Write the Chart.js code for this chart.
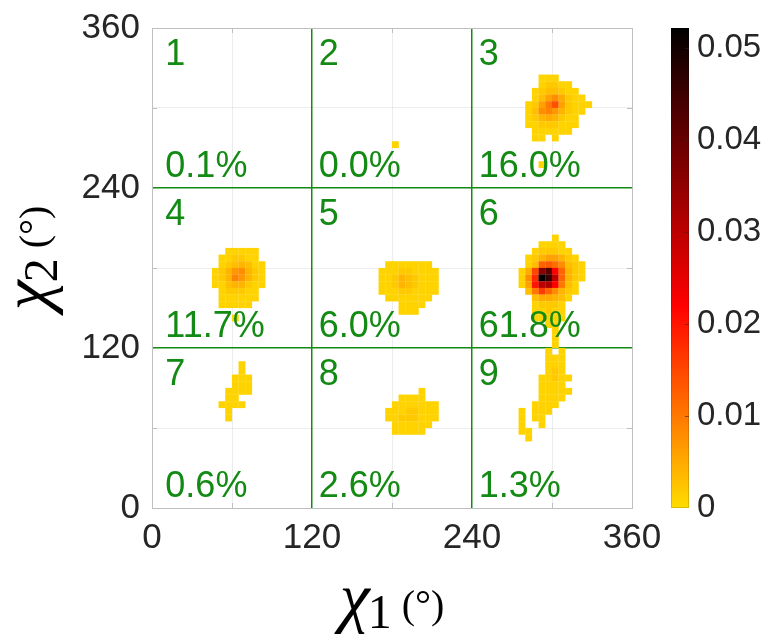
<!DOCTYPE html>
<html lang="en">
<head>
<meta charset="UTF-8">
<title>chi1 / chi2 density map</title>
<style>
  html, body { margin: 0; padding: 0; background: #fff; }
  #wrap { width: 768px; height: 636px; }
</style>
</head>
<body>
<div id="wrap"><canvas id="chart" width="768" height="636"></canvas></div>
<script src="https://cdn.jsdelivr.net/npm/chart.js@4"></script>
<script>
// grid of 5 degree bins, cell values below are in thousandths
const binDeg = 5;
const valueUnit = 0.001;

const axisMax = 360;
const axisLabels = [0, 120, 240, 360];
const cbarMax = 0.0522;
const cbarTicks = [0, 0.01, 0.02, 0.03, 0.04, 0.05];

// colour map: yellow -> red -> black
const cmapStops = [
    [0, [255, 221, 0]],
    [0.022, [255, 0, 0]],
    [0.0522, [0, 0, 0]]
];

const regionNumbers = ['1', '2', '3', '4', '5', '6', '7', '8', '9'];
const regionPercents = ['0.1%', '0.0%', '16.0%', '11.7%', '6.0%', '61.8%', '0.6%', '2.6%', '1.3%'];

// each row: [chi2 bin, first chi1 bin, values...]
const region2Cells = [
    [54, 36, [1]]
];
const region3Cells = [
    [64, 58, [1, 1, 1]],
    [63, 58, [1, 2, 2, 1, 1]],
    [62, 57, [1, 2, 3, 3, 2, 1, 1]],
    [61, 57, [1, 3, 6, 8, 5, 2, 1, 1]],
    [60, 56, [1, 2, 6, 10, 14, 6, 2, 1, 1, 1]],
    [59, 56, [1, 3, 8, 9, 7, 4, 2, 1, 1]],
    [58, 56, [1, 2, 4, 5, 4, 2, 1, 1]],
    [57, 56, [1, 1, 2, 2, 2, 1, 1, 1]],
    [56, 57, [1, 1, 1, 1, 1, 1]],
    [55, 57, [1, 1]],
    [55, 60, [1]],
    [51, 58, [1]]
];
const region4Cells = [
    [38, 11, [1, 1, 1, 1, 1]],
    [37, 10, [1, 1, 2, 2, 1, 1]],
    [36, 10, [1, 2, 3, 4, 3, 1, 1]],
    [35, 9, [1, 2, 4, 7, 8, 4, 2, 1]],
    [34, 9, [1, 2, 4, 9, 7, 4, 2, 1]],
    [33, 9, [1, 1, 3, 4, 4, 2, 1, 1]],
    [32, 10, [1, 2, 2, 2, 1, 1]],
    [31, 10, [1, 1, 1, 1, 1, 1]],
    [30, 10, [1, 1, 1, 1, 1]],
    [28, 12, [1]]
];
const region5Cells = [
    [36, 35, [1, 1, 1, 1, 1, 1, 1]],
    [35, 34, [1, 1, 1, 2, 2, 1, 1, 1, 1]],
    [34, 34, [1, 1, 2, 4, 3, 2, 1, 1, 1]],
    [33, 34, [1, 1, 2, 4, 3, 2, 1, 1, 1]],
    [32, 34, [1, 1, 1, 2, 2, 1, 1, 1, 1]],
    [31, 35, [1, 1, 1, 1, 1, 1, 1]],
    [30, 37, [1, 1, 1, 1]],
    [29, 37, [1, 1, 1]]
];
const region6Cells = [
    [40, 60, [1]],
    [39, 58, [1, 1, 1, 1]],
    [38, 57, [1, 2, 2, 2, 1, 1]],
    [37, 56, [1, 2, 4, 6, 6, 4, 2, 1]],
    [36, 56, [1, 3, 12, 13, 11, 8, 3, 2, 1]],
    [35, 55, [1, 5, 15, 36, 42, 22, 12, 4, 2, 1]],
    [34, 55, [1, 8, 18, 52, 46, 30, 12, 4, 2, 1]],
    [33, 55, [1, 6, 20, 30, 32, 22, 10, 3, 1]],
    [32, 56, [3, 10, 16, 12, 8, 4, 2, 1]],
    [31, 57, [3, 5, 5, 4, 3, 1]],
    [30, 57, [1, 2, 2, 2, 1]],
    [29, 57, [1, 1, 2, 1, 1]],
    [28, 57, [1, 1, 1, 1, 1]],
    [27, 59, [1, 1]],
    [26, 60, [1]],
    [25, 60, [1]],
    [24, 60, [1]]
];
const region7Cells = [
    [21, 13, [1]],
    [20, 13, [1]],
    [19, 12, [1, 1, 1]],
    [18, 12, [1, 1, 1]],
    [17, 11, [1, 1, 1, 1]],
    [16, 11, [1, 1]],
    [15, 10, [1, 1, 1, 1]],
    [14, 11, [1]],
    [13, 11, [1]]
];
const region8Cells = [
    [17, 40, [1]],
    [16, 37, [1, 1, 1, 1]],
    [15, 36, [1, 1, 1, 1, 1, 1, 1]],
    [14, 35, [1, 1, 1, 2, 2, 1, 1, 1]],
    [13, 35, [1, 1, 2, 2, 2, 1, 1, 1]],
    [12, 36, [1, 1, 1, 1, 1, 1]],
    [11, 36, [1, 1, 1, 1, 1]]
];
const region9Cells = [
    [23, 59, [1]],
    [23, 61, [1]],
    [22, 59, [1, 1, 1]],
    [21, 59, [1, 1, 1]],
    [20, 59, [1, 2, 1]],
    [19, 58, [1, 1, 2, 1, 1]],
    [18, 58, [1, 1, 1, 1]],
    [17, 58, [1, 1, 1, 1, 1]],
    [16, 58, [1, 1, 1, 1]],
    [15, 57, [1, 1, 1, 1]],
    [14, 55, [1]],
    [14, 57, [1, 1, 1]],
    [13, 55, [1]],
    [13, 57, [1, 1]],
    [12, 55, [1]],
    [12, 58, [1]],
    [11, 55, [1, 1]],
    [10, 56, [1]]
];

const allRegions = [region2Cells, region3Cells, region4Cells, region5Cells,
    region6Cells, region7Cells, region8Cells, region9Cells];

// turn the row tables into points at the bin centres
const cells = [];
allRegions.forEach(rows => {
    rows.forEach(([j, i0, vals]) => {
        vals.forEach((v, k) => {
            cells.push({ x: (i0 + k) * binDeg + binDeg / 2, y: j * binDeg + binDeg / 2, v: v * valueUnit });
        });
    });
});

function cmapColor(v) {
    for (let n = 1; n < cmapStops.length; n++) {
        const [v1, c1] = cmapStops[n];
        const [v0, c0] = cmapStops[n - 1];
        if (v <= v1 || n === cmapStops.length - 1) {
            const t = Math.max(0, Math.min(1, (v - v0) / (v1 - v0)));
            const c = c0.map((a, k) => Math.round(a + (c1[k] - a) * t));
            return `rgb(${c[0]}, ${c[1]}, ${c[2]})`;
        }
    }
}

const tickColor = '#262626';
const boxColor = '#bfbfbf';
const regionGreen = '#138a13';
const sansFont = '"Liberation Sans", Arial, sans-serif';
const serifFont = '"Liberation Serif", "DejaVu Serif", serif';

function gridColor(c) {
    const v = c.tick ? c.tick.value : null;
    if (v === 120 || v === 240) return regionGreen;
    if (v === 0 || v === axisMax) return boxColor;
    return 'rgba(0, 0, 0, 0.07)';
}
function gridWidth(c) {
    const v = c.tick ? c.tick.value : null;
    return (v === 120 || v === 240) ? 1.5 : 1;
}
const tickLabel = v => axisLabels.includes(v) ? String(v) : '';

// colour bar, inner ticks, region labels and axis titles
const decorPlugin = {
    id: 'decor',
    afterDraw(chart) {
        const ctx = chart.ctx;
        const xs = chart.scales.x, ys = chart.scales.y, cb = chart.scales.cbar;
        const area = chart.chartArea;
        ctx.save();

        // inward tick marks at 60 degree steps
        ctx.strokeStyle = boxColor;
        ctx.lineWidth = 1;
        [60, 180, 300].forEach(v => {
            const px = Math.round(xs.getPixelForValue(v)) + 0.5;
            const py = Math.round(ys.getPixelForValue(v)) + 0.5;
            ctx.beginPath();
            ctx.moveTo(px, area.bottom); ctx.lineTo(px, area.bottom - 5);
            ctx.moveTo(px, area.top); ctx.lineTo(px, area.top + 5);
            ctx.moveTo(area.left, py); ctx.lineTo(area.left + 5, py);
            ctx.moveTo(area.right, py); ctx.lineTo(area.right - 5, py);
            ctx.stroke();
        });

        // colour bar
        const barX = area.right + 39, barW = 18;
        const yTop = cb.getPixelForValue(cbarMax), yBot = cb.getPixelForValue(0);
        const grad = ctx.createLinearGradient(0, yBot, 0, yTop);
        cmapStops.forEach(([v, c]) => grad.addColorStop(v / cbarMax, `rgb(${c[0]}, ${c[1]}, ${c[2]})`));
        ctx.fillStyle = grad;
        ctx.fillRect(barX, yTop, barW, yBot - yTop);
        ctx.strokeStyle = 'rgba(0, 0, 0, 0.15)';
        ctx.strokeRect(barX + 0.5, yTop + 0.5, barW - 1, yBot - yTop - 1);
        ctx.strokeStyle = 'rgba(40, 40, 40, 0.6)';
        cbarTicks.slice(1).forEach(v => {
            const py = Math.round(cb.getPixelForValue(v)) + 0.5;
            ctx.beginPath();
            ctx.moveTo(barX + barW, py); ctx.lineTo(barX + barW - 4, py);
            ctx.stroke();
        });

        // region numbers and percentages
        const textX = [10, 125, 245];
        ctx.fillStyle = regionGreen;
        ctx.font = `36px ${sansFont}`;
        ctx.textAlign = 'left';
        ctx.textBaseline = 'alphabetic';
        regionNumbers.forEach((num, r) => {
            const row = Math.floor(r / 3), col = r % 3;
            const top = axisMax - row * 120;
            const px = xs.getPixelForValue(textX[col]);
            ctx.fillText(num, px, ys.getPixelForValue(top - 28));
            ctx.fillText(regionPercents[r], px, ys.getPixelForValue(top - 112));
        });

        // axis titles: chi_1 (deg) and chi_2 (deg)
        const drawTitle = (sub, cx, base) => {
            const parts = [
                { t: 'χ', f: `italic 68px ${serifFont}`, dy: -8, gap: 0 },
                { t: sub, f: `48px ${serifFont}`, dy: 0, gap: -2 },
                { t: '(°)', f: `40px ${serifFont}`, dy: -10, gap: 10 }
            ];
            let total = 0;
            parts.forEach(p => { ctx.font = p.f; p.w = ctx.measureText(p.t).width; total += p.w + p.gap; });
            let x = cx - total / 2;
            ctx.fillStyle = '#000';
            ctx.textAlign = 'left';
            parts.forEach(p => {
                x += p.gap;
                ctx.font = p.f;
                ctx.fillText(p.t, x, base + p.dy);
                x += p.w;
            });
        };
        drawTitle('1', (area.left + area.right) / 2, 628);
        ctx.translate(57, (area.top + area.bottom) / 2 - 10);
        ctx.rotate(-Math.PI / 2);
        drawTitle('2', 0, 0);

        ctx.restore();
    }
};

new Chart(document.getElementById('chart'), {
    type: 'scatter',
    data: {
        datasets: [{
            data: cells,
            pointStyle: 'rect',
            backgroundColor: c => cmapColor(c.raw ? c.raw.v : 0),
            borderWidth: 0,
            pointRadius: c => {
                const s = c.chart.scales.x;
                return Math.abs(s.getPixelForValue(binDeg) - s.getPixelForValue(0)) / Math.SQRT2 + 0.15;
            },
            pointHoverRadius: c => {
                const s = c.chart.scales.x;
                return Math.abs(s.getPixelForValue(binDeg) - s.getPixelForValue(0)) / Math.SQRT2 + 0.15;
            }
        }]
    },
    options: {
        responsive: false,
        animation: false,
        events: [],
        layout: { padding: { top: 28, left: 0, right: 0, bottom: 0 } },
        plugins: { legend: { display: false }, tooltip: { enabled: false } },
        scales: {
            x: {
                type: 'linear', position: 'bottom', min: 0, max: axisMax, z: 1,
                afterFit: s => { s.height = 128; s.paddingLeft = 0; s.paddingRight = 0; },
                ticks: {
                    stepSize: 60, callback: tickLabel, maxRotation: 0, autoSkip: false,
                    color: tickColor, padding: 9, font: { family: sansFont, size: 35 }
                },
                grid: { color: gridColor, lineWidth: gridWidth, drawTicks: false },
                border: { color: boxColor }
            },
            y: {
                type: 'linear', position: 'left', min: 0, max: axisMax, z: 1,
                afterFit: s => { s.width = 152; s.paddingTop = 0; s.paddingBottom = 0; },
                ticks: {
                    stepSize: 60, callback: tickLabel, autoSkip: false,
                    color: tickColor, padding: 12, font: { family: sansFont, size: 35 }
                },
                grid: { color: gridColor, lineWidth: gridWidth, drawTicks: false },
                border: { color: boxColor }
            },
            cbar: {
                axis: 'y', type: 'linear', position: 'right', min: 0, max: cbarMax,
                afterFit: s => { s.width = 136; s.paddingTop = 0; s.paddingBottom = 0; },
                ticks: {
                    stepSize: 0.01, includeBounds: false, autoSkip: false,
                    callback: v => v === 0 ? '0' : v.toFixed(2),
                    color: tickColor, padding: 65, font: { family: sansFont, size: 33 }
                },
                grid: { display: false, drawTicks: false },
                border: { display: false }
            }
        }
    },
    plugins: [decorPlugin]
});
</script>
</body>
</html>
